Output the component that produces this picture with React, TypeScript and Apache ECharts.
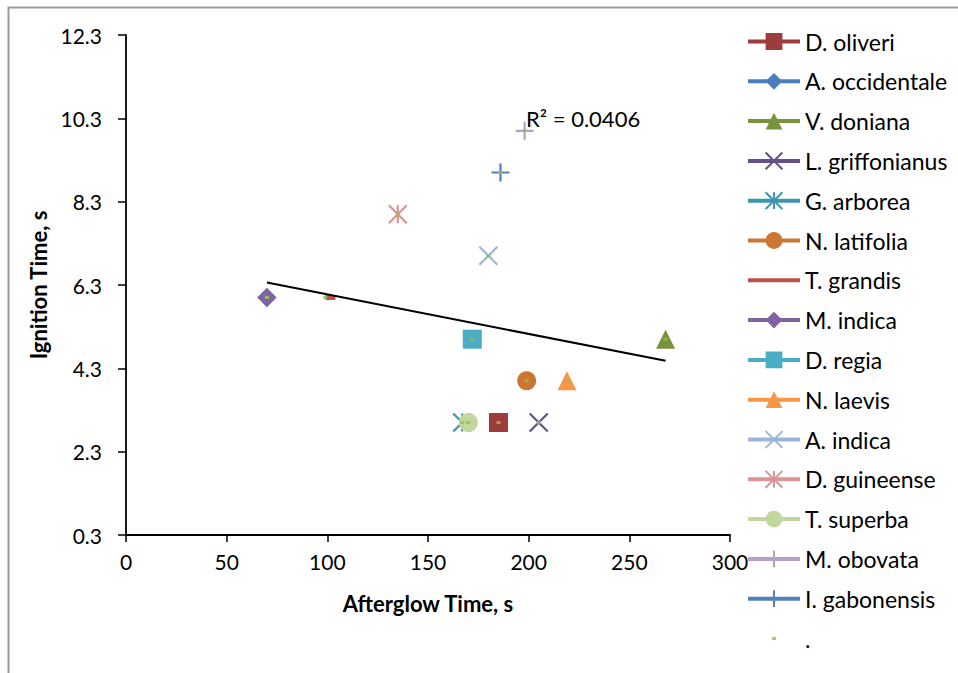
import React, { useEffect, useRef } from "react";
import * as echarts from "echarts";

// Wood species: afterglow time (s) vs ignition time (s)
const species = [
  "D. oliveri",
  "A. occidentale",
  "V. doniana",
  "L. griffonianus",
  "G. arborea",
  "N. latifolia",
  "T. grandis",
  "M. indica",
  "D. regia",
  "N. laevis",
  "A. indica",
  "D. guineense",
  "T. superba",
  "M. obovata",
  "I. gabonensis",
];
const afterglowTime = [185, 70, 268, 205, 167, 199, 99, 70, 172, 219, 180, 135, 170, 198, 186];
const ignitionTime = [3, 6, 5, 3, 3, 4, 6, 6, 5, 4, 7, 8, 3, 10, 9];

// T. grandis is plotted as a short line segment
const tGrandisExtra = [104, 6];

// Linear trendline endpoints and its R²
const trendX = [70, 268];
const trendY = [6.36, 4.48];
const rSquaredLabel = "R² = 0.0406";

const xTicks = { min: 0, max: 300, step: 50 };
const yTicks = { min: 0.3, max: 12.3, step: 2 };

const X_PATH = "path://M0,0L10,10M10,0L0,10";
const STAR_PATH = "path://M0,0L10,10M10,0L0,10M5,0L5,10";
const PLUS_PATH = "path://M0,5L10,5M5,0L5,10";

const seriesColors = [
  "#9C3D3B",
  "#4A7EBB",
  "#77933C",
  "#65518A",
  "#3A95AD",
  "#CD7633",
  "#C0504D",
  "#8064A2",
  "#4BACC6",
  "#F79646",
  "#9AB5D8",
  "#D99694",
  "#C3D69B",
  "#B3A2C7",
  "#4F81BD",
];
const seriesSymbols = [
  "rect",
  "diamond",
  "triangle",
  X_PATH,
  STAR_PATH,
  "circle",
  "none",
  "diamond",
  "rect",
  "triangle",
  X_PATH,
  STAR_PATH,
  "circle",
  PLUS_PATH,
  PLUS_PATH,
];
const dotColor = "#9BBB59";
const FONT = "Lato";

function buildOption() {
  const speciesSeries = species.map((name, i) => {
    const sym = seriesSymbols[i];
    const stroked = sym.startsWith("path://");
    const data: number[][] = [[afterglowTime[i], ignitionTime[i]]];
    if (name === "T. grandis") data.push(tGrandisExtra);
    return {
      name,
      type: "line",
      data,
      symbol: sym,
      symbolSize: stroked ? 18 : 19,
      showSymbol: sym !== "none",
      color: seriesColors[i],
      lineStyle: { color: seriesColors[i], width: name === "T. grandis" ? 5 : 4 },
      itemStyle: stroked
        ? { color: seriesColors[i], borderColor: seriesColors[i], borderWidth: 2.2 }
        : { color: seriesColors[i], borderWidth: 0 },
      z: 2,
    };
  });

  const dotData = species.map((_, i) => [afterglowTime[i], ignitionTime[i]]);

  const legendData: any[] = species.map((name) =>
    name === "T. grandis" ? { name, icon: "path://M0,0L52,0L52,4L0,4Z" } : { name }
  );
  legendData.push({
    name: ".",
    icon: "path://M0,0L0.01,0M24,9L28,9L28,12L24,12ZM52,21L52.01,21",
  });

  return {
    animation: false,
    backgroundColor: "#ffffff",
    textStyle: { fontFamily: FONT },
    grid: { left: 126, top: 35, right: 228, bottom: 138, containLabel: false },
    xAxis: {
      type: "value",
      min: xTicks.min,
      max: xTicks.max,
      interval: xTicks.step,
      name: "Afterglow Time, s",
      nameLocation: "middle",
      nameGap: 57,
      nameTextStyle: { fontFamily: FONT, fontSize: 22, fontWeight: "bold", color: "#000" },
      axisLine: { show: true, lineStyle: { color: "#000", width: 1.8 } },
      axisTick: { show: true, inside: false, length: 7, lineStyle: { color: "#000", width: 1.5 } },
      axisLabel: { fontFamily: FONT, fontSize: 21, color: "#000", margin: 16 },
      splitLine: { show: false },
    },
    yAxis: {
      type: "value",
      min: yTicks.min,
      max: yTicks.max,
      interval: yTicks.step,
      name: "Ignition Time, s",
      nameLocation: "middle",
      nameGap: 75,
      nameTextStyle: { fontFamily: FONT, fontSize: 22, fontWeight: "bold", color: "#000" },
      axisLine: { show: true, lineStyle: { color: "#000", width: 1.8 } },
      axisTick: { show: true, inside: false, length: 8, lineStyle: { color: "#000", width: 1.5 } },
      axisLabel: {
        fontFamily: FONT,
        fontSize: 21,
        color: "#000",
        margin: 24,
        formatter: (v: number) => v.toFixed(1),
      },
      splitLine: { show: false },
    },
    legend: {
      orient: "vertical",
      left: 746,
      top: 29,
      padding: 0,
      itemWidth: 52,
      itemHeight: 21,
      itemGap: 14.8,
      selectedMode: false,
      data: legendData,
      lineStyle: { width: 4 },
      textStyle: { fontFamily: FONT, fontSize: 23, color: "#000", lineHeight: 25 },
    },
    graphic: [
      {
        type: "rect",
        silent: true,
        shape: { x: 8.5, y: 7.5, width: 1200, height: 1200 },
        style: { fill: "none", stroke: "#9a9a9a", lineWidth: 2 },
        z: 0,
      },
      {
        type: "text",
        silent: true,
        x: 526,
        y: 107,
        style: { text: rSquaredLabel, fontFamily: FONT, fontSize: 22, fill: "#000" },
        z: 10,
      },
    ],
    series: [
      ...speciesSeries,
      {
        name: "Linear",
        type: "line",
        data: trendX.map((x, i) => [x, trendY[i]]),
        symbol: "none",
        lineStyle: { color: "#000", width: 2 },
        z: 3,
      },
      {
        name: ".",
        type: "scatter",
        data: dotData,
        symbol: "rect",
        symbolSize: [4, 3],
        itemStyle: { color: dotColor },
        z: 4,
      },
    ],
  };
}

export default function App() {
  const ref = useRef<HTMLDivElement>(null);
  useEffect(() => {
    if (!ref.current) return;
    const chart = echarts.init(ref.current, undefined, { renderer: "svg" });
    chart.setOption(buildOption() as any);
    return () => chart.dispose();
  }, []);
  return (
    <div
      ref={ref}
      style={{ position: "absolute", left: 0, top: 0, width: 958, height: 673, background: "#fff" }}
    />
  );
}
